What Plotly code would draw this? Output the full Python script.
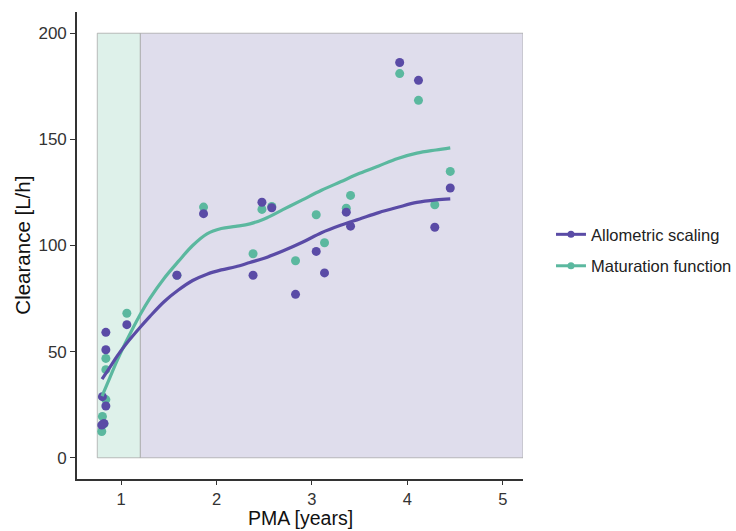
import plotly.graph_objects as go

# Observed data
pma = [0.84, 0.84, 0.84, 0.804, 0.82, 0.797, 1.06, 1.585, 1.864, 2.383, 2.476, 2.579,
       2.828, 3.045, 3.132, 3.36, 3.405, 3.92, 4.117, 4.288, 4.45]
allometric = [59.1, 50.9, 24.4, 28.8, 16.2, 15.4, 62.7, 86.0, 115.0, 86.0, 120.4, 117.8,
              77.0, 97.2, 87.1, 115.7, 109.1, 186.2, 177.8, 108.6, 127.1]
maturation = [46.8, 41.5, 27.4, 19.5, 16.0, 12.4, 68.1, 86.0, 118.1, 96.1, 117.0, 118.4,
              92.8, 114.5, 101.3, 117.6, 123.6, 181.0, 168.4, 119.2, 134.9]

# Smoothed fits
fit_x = [0.80, 0.88, 0.96, 1.05, 1.2, 1.3, 1.45, 1.6, 1.75, 1.9, 2.05, 2.2, 2.35, 2.5,
         2.7, 2.9, 3.1, 3.3, 3.5, 3.7, 3.9, 4.1, 4.3, 4.45]
fit_allometric = [37, 42.5, 48, 53.5, 61.5, 66.5, 73.5, 79, 83.5, 86.5, 88.5, 90, 92, 94,
                  97.5, 101.5, 106, 109.5, 112.5, 115.5, 118, 120.3, 121.5, 122]
fit_maturation = [29, 37.5, 46, 54.5, 67.5, 75, 84.5, 92.5, 100, 105.5, 108, 109, 110.2,
                  112.5, 117, 121.5, 126, 130, 134, 137.5, 141, 143.5, 145, 146]

# Regions
green_region = [0.75, 1.2]
purple_region = [1.2, 5.2125]
region_y = [0, 200]

x_ticks = [1, 2, 3, 4, 5]
y_ticks = [0, 50, 100, 150, 200]
x_title = "PMA [years]"
y_title = "Clearance [L/h]"

PURPLE = "#5A4BA6"
GREEN = "#5BB89F"

fig = go.Figure()

# shading rectangles
fig.add_shape(type="rect", x0=purple_region[0], x1=purple_region[1], y0=region_y[0], y1=region_y[1],
              xref="x", yref="y", fillcolor="#DFDDEC", line=dict(color="rgba(160,160,160,0.7)", width=1),
              layer="below")
fig.add_shape(type="rect", x0=green_region[0], x1=green_region[1], y0=region_y[0], y1=region_y[1],
              xref="x", yref="y", fillcolor="#DEF1EA", line=dict(color="rgba(160,160,160,0.7)", width=1),
              layer="below")

# points (green first so purple sits on top)
fig.add_trace(go.Scatter(x=pma, y=maturation, mode="markers", marker=dict(color=GREEN, size=9),
                         showlegend=False, hoverinfo="skip"))
fig.add_trace(go.Scatter(x=pma, y=allometric, mode="markers", marker=dict(color=PURPLE, size=9),
                         showlegend=False, hoverinfo="skip"))

# smooth lines
fig.add_trace(go.Scatter(x=fit_x, y=fit_maturation, mode="lines",
                         line=dict(color=GREEN, width=3.2, shape="spline", smoothing=1.0),
                         showlegend=False, hoverinfo="skip"))
fig.add_trace(go.Scatter(x=fit_x, y=fit_allometric, mode="lines",
                         line=dict(color=PURPLE, width=3.2, shape="spline", smoothing=1.0),
                         showlegend=False, hoverinfo="skip"))

# legend entries
fig.add_trace(go.Scatter(x=[None], y=[None], mode="lines+markers",
                         line=dict(color=PURPLE, width=3), marker=dict(color=PURPLE, size=7),
                         name="Allometric scaling", legendrank=1, legendgroup="a"))
fig.add_trace(go.Scatter(x=[None], y=[None], mode="lines+markers",
                         line=dict(color=GREEN, width=3), marker=dict(color=GREEN, size=7),
                         name="Maturation function", legendrank=2, legendgroup="b"))

fig.add_annotation(text=x_title, xref="paper", yref="paper", x=0.5, y=-0.1092,
                   xanchor="center", yanchor="bottom", showarrow=False, borderpad=0,
                   font=dict(size=19.5, color="#111"))
fig.add_annotation(text=y_title, xref="paper", yref="paper", x=-0.123, y=0.5,
                   xanchor="center", yanchor="middle", showarrow=False, textangle=-90,
                   font=dict(size=20.5, color="#111"))

fig.update_layout(
    width=736, height=531,
    margin=dict(l=77, r=213, t=12, b=52),
    paper_bgcolor="white", plot_bgcolor="white",
    font=dict(family="Liberation Sans, Arial, sans-serif", size=17, color="#222"),
    legend=dict(xref="container", yref="container", x=0.7486, y=0.529,
                xanchor="left", yanchor="middle",
                font=dict(size=16.5, color="#222"), tracegroupgap=7,
                itemwidth=30, bgcolor="rgba(0,0,0,0)"),
    xaxis=dict(range=[0.5375, 5.2125], tickvals=x_ticks, ticks="outside", ticklen=4,
               tickwidth=1.3, tickcolor="#333", showline=True, linecolor="#333", linewidth=1.6,
               showgrid=False, zeroline=False, automargin=False,
               tickfont=dict(size=16.5, color="#333")),
    yaxis=dict(range=[-10, 210], tickvals=y_ticks, ticks="outside", ticklen=5,
               tickwidth=1.3, tickcolor="#333", showline=True, linecolor="#333", linewidth=1.6,
               showgrid=False, zeroline=False, automargin=False,
               tickfont=dict(size=17, color="#333")),
)

fig.write_html("out.html")
